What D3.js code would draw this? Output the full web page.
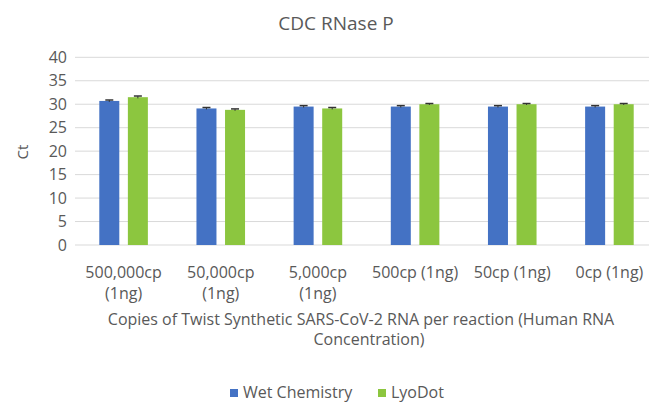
<!DOCTYPE html>
<meta charset="utf-8">
<style>
  body { margin: 0; background: #fff; }
  svg text { font-family: "Open Sans", "Noto Sans", sans-serif; fill: #595959; }
</style>
<body>
<div id="chart"></div>
<script src="https://cdn.jsdelivr.net/npm/d3@7"></script>
<script>
  // data
  var categories = ["500,000cp (1ng)", "50,000cp (1ng)", "5,000cp (1ng)", "500cp (1ng)", "50cp (1ng)", "0cp (1ng)"];
  var labelLines = [["500,000cp", "(1ng)"], ["50,000cp", "(1ng)"], ["5,000cp", "(1ng)"], ["500cp (1ng)"], ["50cp (1ng)"], ["0cp (1ng)"]];
  var seriesNames = ["Wet Chemistry", "LyoDot"];
  var wetValues = [30.7, 29.1, 29.5, 29.5, 29.5, 29.5];
  var wetErrors = [0.2, 0.2, 0.2, 0.2, 0.2, 0.2];
  var lyoValues = [31.5, 28.8, 29.1, 30.0, 30.0, 30.0];
  var lyoErrors = [0.25, 0.2, 0.2, 0.15, 0.15, 0.15];
  var yTicks = [0, 5, 10, 15, 20, 25, 30, 35, 40];
  var colors = ["#4472C4", "#8CC63F"];

  var width = 649, height = 407;
  var plot = {left: 75, right: 658, top: 57.3, bottom: 245};

  var svg = d3.select("#chart").append("svg")
    .attr("width", width)
    .attr("height", height);

  var x = d3.scaleBand().domain(categories).range([plot.left, plot.right]).paddingInner(0.5).paddingOuter(0.25);
  var xs = d3.scaleBand().domain(seriesNames).range([0, x.bandwidth()]).paddingInner(0.3);
  var y = d3.scaleLinear().domain([0, 40]).range([plot.bottom, plot.top]);

  // gridlines
  svg.append("g").selectAll("line")
    .data(yTicks)
    .enter().append("line")
    .attr("x1", plot.left).attr("x2", plot.right)
    .attr("y1", d => y(d)).attr("y2", d => y(d))
    .attr("stroke", "#d9d9d9")
    .attr("stroke-width", 1);

  // y axis labels
  var yAxis = d3.axisLeft(y).tickValues(yTicks).tickSize(0).tickPadding(8);
  var gy = svg.append("g").attr("transform", "translate(" + plot.left + ",0)").call(yAxis);
  gy.select(".domain").remove();
  gy.selectAll("text").style("font-size", "16px").style("font-family", null).attr("fill", "#595959");

  var rows = categories.map((c, i) => ({cat: c, vals: [wetValues[i], lyoValues[i]], errs: [wetErrors[i], lyoErrors[i]]}));

  var groups = svg.append("g").selectAll("g")
    .data(rows)
    .enter().append("g")
    .attr("transform", d => "translate(" + x(d.cat) + ",0)");

  groups.selectAll("rect")
    .data(d => d.vals.map((v, j) => ({name: seriesNames[j], v: v, e: d.errs[j], j: j})))
    .enter().append("rect")
    .attr("x", d => xs(d.name))
    .attr("width", xs.bandwidth())
    .attr("y", d => y(d.v))
    .attr("height", d => y(0) - y(d.v))
    .attr("fill", d => colors[d.j]);

  // error bars
  var eb = groups.selectAll("g.err")
    .data(d => d.vals.map((v, j) => ({name: seriesNames[j], v: v, e: d.errs[j]})))
    .enter().append("g").attr("class", "err");
  eb.append("line")
    .attr("x1", d => xs(d.name) + xs.bandwidth() / 2)
    .attr("x2", d => xs(d.name) + xs.bandwidth() / 2)
    .attr("y1", d => y(d.v + d.e)).attr("y2", d => y(d.v - d.e))
    .attr("stroke", "#333").attr("stroke-width", 1);
  eb.append("line")
    .attr("x1", d => xs(d.name) + xs.bandwidth() / 2 - 4)
    .attr("x2", d => xs(d.name) + xs.bandwidth() / 2 + 4)
    .attr("y1", d => y(d.v + d.e)).attr("y2", d => y(d.v + d.e))
    .attr("stroke", "#333").attr("stroke-width", 1.5);

  // x category labels
  svg.append("g").selectAll("text")
    .data(categories)
    .enter().append("text")
    .attr("x", d => x(d) + x.bandwidth() / 2)
    .attr("y", 278)
    .attr("text-anchor", "middle")
    .style("font-size", "16px")
    .each(function(d, i) {
      var t = d3.select(this);
      labelLines[i].forEach((ln, k) => {
        t.append("tspan").attr("x", x(d) + x.bandwidth() / 2).attr("dy", k === 0 ? 0 : 21).text(ln);
      });
    });

  // title
  svg.append("text")
    .attr("x", 336).attr("y", 30)
    .attr("text-anchor", "middle")
    .style("font-size", "19px")
    .text("CDC RNase P");

  // y axis title
  svg.append("text")
    .attr("transform", "translate(28,152) rotate(-90)")
    .attr("text-anchor", "middle")
    .style("font-size", "15px")
    .text("Ct");

  // x axis title
  var xt = svg.append("text")
    .attr("text-anchor", "middle")
    .style("font-size", "16px");
  xt.append("tspan").attr("x", 361).attr("y", 325).text("Copies of Twist Synthetic SARS-CoV-2 RNA per reaction (Human RNA");
  xt.append("tspan").attr("x", 369).attr("y", 345).text("Concentration)");

  // legend
  var legendX = [230, 378];
  var lg = svg.append("g").selectAll("g")
    .data(seriesNames)
    .enter().append("g")
    .attr("transform", (d, i) => "translate(" + legendX[i] + ",389)");
  lg.append("rect").attr("width", 8).attr("height", 8).attr("fill", (d, i) => colors[i]);
  lg.append("text").attr("x", 13).attr("y", 9).style("font-size", "16px").text(d => d);
</script>
</body>
